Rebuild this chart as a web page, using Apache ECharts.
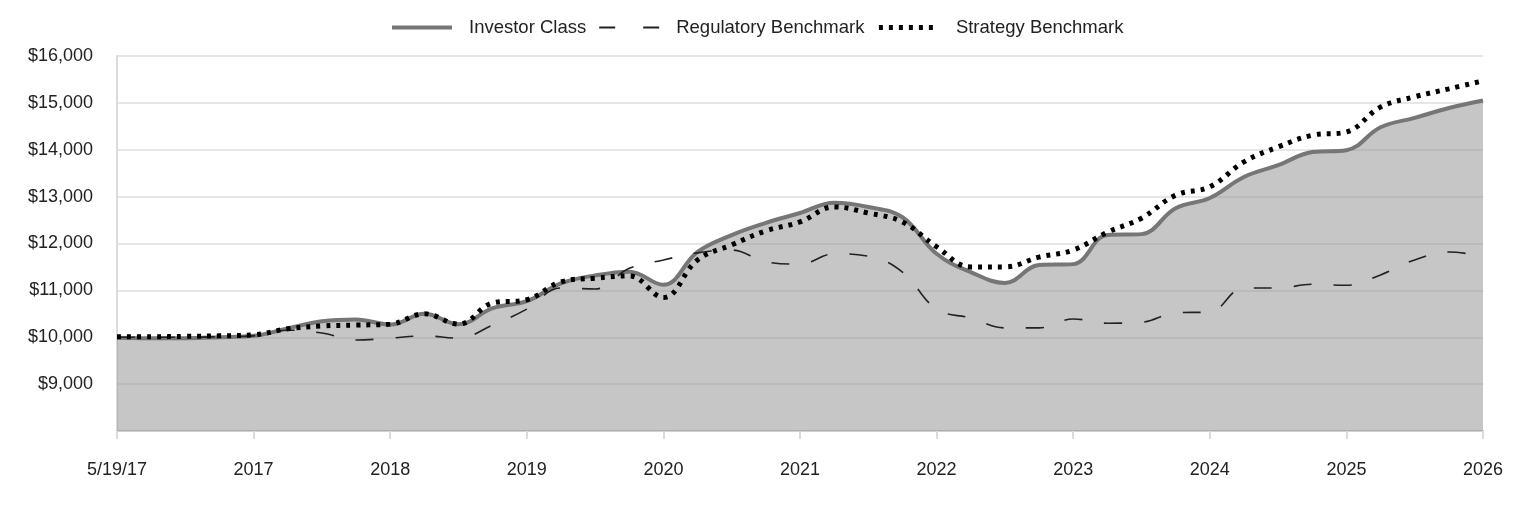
<!DOCTYPE html>
<html>
<head>
<meta charset="utf-8">
<script src="https://cdn.jsdelivr.net/npm/echarts@6/dist/echarts.min.js"></script>
<style>
  html, body { margin: 0; padding: 0; background: #fff; }
  #chart { width: 1524px; height: 516px; }
</style>
</head>
<body>
<div id="chart"></div>
<script>
// quarterly points, 4 per labelled period
const tickLabels = ['5/19/17', '2017', '2018', '2019', '2020', '2021', '2022', '2023', '2024', '2025', '2026']

const investorClass = [
  9990, 9980, 9980, 10000, 10030, 10190, 10340, 10380, 10270, 10500, 10280,
  10620, 10770, 11150, 11320, 11400, 11120, 11820, 12180, 12440, 12650,
  12870, 12780, 12560, 11780, 11390, 11160, 11540, 11560, 12180, 12200,
  12750, 12970, 13420, 13670, 13950, 13990, 14480, 14680, 14890, 15050
]
const regulatoryBenchmark = [
  10000, 10000, 10000, 10010, 10030, 10150, 10090, 9940, 9980, 10030, 9980,
  10260, 10600, 11050, 11030, 11470, 11650, 11800, 11860, 11610, 11560,
  11780, 11730, 11390, 10600, 10410, 10200, 10200, 10390, 10300, 10320,
  10520, 10540, 11050, 11050, 11130, 11110, 11330, 11650, 11820, 11720
]
const strategyBenchmark = [
  10010, 10010, 10020, 10030, 10050, 10180, 10240, 10260, 10280, 10500, 10280,
  10730, 10800, 11180, 11260, 11310, 10850, 11650, 11970, 12270, 12460,
  12780, 12650, 12460, 11930, 11500, 11500, 11710, 11860, 12240, 12540,
  13030, 13210, 13740, 14060, 14310, 14380, 14910, 15130, 15300, 15470
]

const categories = investorClass.map((v, i) => (i % 4 === 0 ? tickLabels[i / 4] : ''))

const fontFamily = '"Liberation Sans", Arial, sans-serif'

const option = {
  animation: false,
  textStyle: { fontFamily: fontFamily },
  legend: {
    top: 13,
    left: 385,
    itemWidth: 60,
    itemHeight: 14,
    itemGap: 12,
    itemStyle: { opacity: 0 },
    textStyle: { fontSize: 18.5, color: '#222', padding: [0, 0, 0, 12] },
    data: [
      { name: 'Investor Class', lineStyle: { width: 4, color: '#767676' } },
      { name: 'Regulatory Benchmark', lineStyle: { width: 2, color: '#222', type: [16, 28] } },
      { name: 'Strategy Benchmark', lineStyle: { width: 5, color: '#000', type: [4, 6] } }
    ]
  },
  grid: { left: 117, right: 41, top: 56, bottom: 85 },
  xAxis: {
    type: 'category',
    boundaryGap: false,
    data: categories,
    axisLine: { lineStyle: { color: '#d0d0d0', width: 2 } },
    axisTick: { interval: 3, length: 8, lineStyle: { color: '#dcdcdc', width: 2 } },
    axisLabel: { interval: 3, margin: 30, fontSize: 18, color: '#222' }
  },
  yAxis: {
    type: 'value',
    min: 8000,
    max: 16000,
    interval: 1000,
    axisLine: { show: true, lineStyle: { color: '#dcdcdc', width: 2 } },
    axisTick: { show: false },
    axisLabel: {
      showMinLabel: false,
      margin: 24,
      fontSize: 18,
      color: '#222',
      formatter: v => '$' + v.toLocaleString('en-US')
    },
    splitLine: { lineStyle: { color: '#e6e6e6', width: 2 } }
  },
  series: [
    {
      name: 'Investor Class',
      type: 'line',
      data: investorClass,
      smooth: 0.4,
      symbol: 'none',
      z: 1,
      lineStyle: { color: '#767676', width: 4 },
      itemStyle: { color: '#767676' },
      areaStyle: { color: '#8d8d8d', opacity: 0.5, origin: 'start' }
    },
    {
      name: 'Regulatory Benchmark',
      type: 'line',
      data: regulatoryBenchmark,
      smooth: 0.4,
      symbol: 'none',
      z: 2,
      lineStyle: { color: '#222', width: 1.6, type: [18, 22] },
      itemStyle: { color: '#222' }
    },
    {
      name: 'Strategy Benchmark',
      type: 'line',
      data: strategyBenchmark,
      smooth: 0.4,
      symbol: 'none',
      z: 3,
      lineStyle: { color: '#000', width: 5, type: [4, 6] },
      itemStyle: { color: '#000' }
    }
  ]
}

const mychart = echarts.init(document.getElementById('chart'))
mychart.setOption(option)
</script>
</body>
</html>
